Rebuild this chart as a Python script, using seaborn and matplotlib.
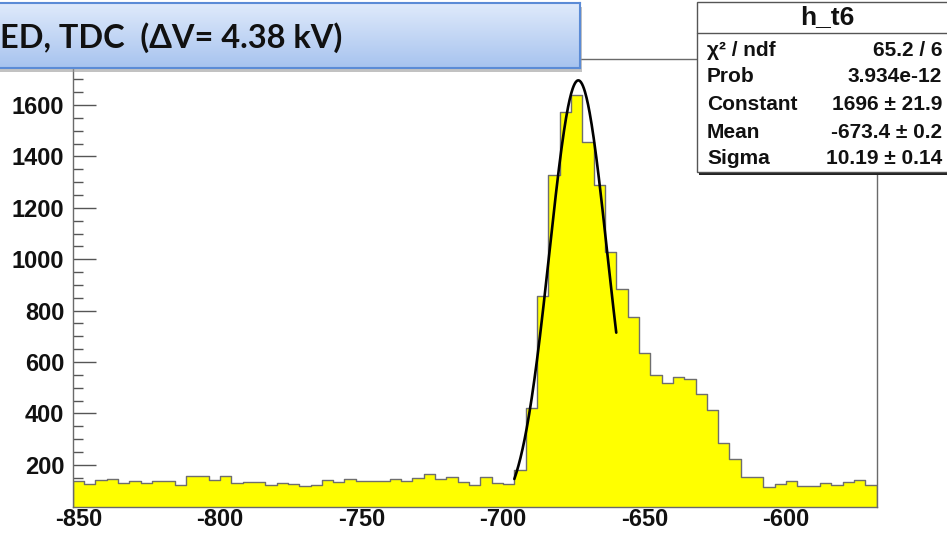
import numpy as np
import pandas as pd
import matplotlib
matplotlib.use("Agg")
import matplotlib.pyplot as plt
import seaborn as sns
from matplotlib.patches import Rectangle
from matplotlib.ticker import MultipleLocator

# TDC histogram h_t6: 71 bins of 4 channels starting at -852
bin_lo = -852
bin_width = 4
counts = [138, 126, 142, 145, 129, 138, 131, 139, 139, 122,
          158, 155, 141, 157, 129, 135, 135, 122, 129, 125,
          116, 120, 142, 135, 144, 138, 139, 139, 144, 138,
          148, 164, 146, 152, 135, 120, 151, 131, 125, 181,
          420, 858, 1328, 1574, 1639, 1457, 1289, 1030, 883, 777,
          637, 550, 520, 540, 533, 476, 414, 284, 222, 151,
          151, 113, 125, 138, 116, 116, 131, 122, 135, 142, 122]

# Gaussian fit result and its range
fit_constant = 1696
fit_mean = -673.4
fit_sigma = 10.19
fit_range = (-696, -660)

x_ticks = [-850, -800, -750, -700, -650, -600]
y_ticks = [200, 400, 600, 800, 1000, 1200, 1400, 1600]

title_text = "ED, TDC  (\u0394V= 4.38 kV)"
stats_title = "h_t6"
stats_labels = ["\u03c7\u00b2 / ndf", "Prob", "Constant", "Mean", "Sigma"]
stats_values = ["65.2 / 6", "3.934e-12", "1696 \u00b1 21.9",
                "-673.4 \u00b1 0.2", "10.19 \u00b1 0.14"]

W, H = 947, 533
sns.set_theme(style="white")
plt.rcParams["font.family"] = ["Liberation Sans", "DejaVu Sans"]

fig = plt.figure(figsize=(W / 100, H / 100), dpi=100)
fig.patch.set_facecolor("white")


def fx(px):
    return px / W


def fy(py):
    return 1 - py / H


# main frame
ax_l, ax_r, ax_t, ax_b = 72.7, 876.7, 59.3, 507
ax = fig.add_axes([fx(ax_l), fy(ax_b), fx(ax_r - ax_l), (ax_b - ax_t) / H])

edges = [bin_lo + bin_width * i for i in range(len(counts) + 1)]
centers = [e + bin_width / 2 for e in edges[:-1]]
df = pd.DataFrame({"channel": centers, "entries": counts})

sns.histplot(data=df, x="channel", weights="entries", bins=edges,
             element="step", fill=True, facecolor="#ffff00",
             edgecolor="#6e6e6e", linewidth=1.0, alpha=1, ax=ax)

xf = np.linspace(fit_range[0], fit_range[1], 200)
yf = fit_constant * np.exp(-0.5 * ((xf - fit_mean) / fit_sigma) ** 2)
sns.lineplot(x=xf, y=yf, color="black", linewidth=1.9, ax=ax)

ax.set_xlim(edges[0], edges[-1])
ax.set_ylim(36, 1778)
ax.set_xlabel("")
ax.set_ylabel("")
ax.set_xticks(x_ticks)
ax.set_yticks(y_ticks)
ax.xaxis.set_minor_locator(MultipleLocator(10))
ax.yaxis.set_minor_locator(MultipleLocator(50))
ax.set_xticklabels([str(v) for v in x_ticks])
ax.set_yticklabels([str(v) for v in y_ticks])

ax.tick_params(axis="x", which="major", direction="in", length=10,
               width=1, color="#555555", pad=1, labelsize=17,
               bottom=True, top=False)
ax.tick_params(axis="x", which="minor", direction="in", length=5,
               width=1, color="#555555", bottom=True, top=False)
ax.tick_params(axis="y", which="major", direction="in", length=16.5,
               width=1, color="#555555", pad=6, labelsize=17,
               left=True, right=False)
ax.tick_params(axis="y", which="minor", direction="in", length=7.5,
               width=1, color="#555555", left=True, right=False)
for lab in ax.get_xticklabels() + ax.get_yticklabels():
    lab.set_fontweight("bold")
    lab.set_color("#111111")
for sp in ax.spines.values():
    sp.set_color("#6a6a6a")
    sp.set_linewidth(1.0)
ax.set_facecolor("white")

# statistics box
sx0, sy0, sx1, sy1 = 697, 2, 955, 172
fig.add_artist(Rectangle((fx(sx0 + 2), fy(sy1 + 3)), fx(sx1 - sx0),
                         (sy1 - sy0) / H, transform=fig.transFigure,
                         facecolor="#222222", edgecolor="none", zorder=9))
fig.add_artist(Rectangle((fx(sx0), fy(sy1)), fx(sx1 - sx0),
                         (sy1 - sy0) / H, transform=fig.transFigure,
                         facecolor="white", edgecolor="#555555",
                         linewidth=1.0, zorder=10))
fig.add_artist(plt.Line2D([fx(sx0), fx(sx1)], [fy(33), fy(33)],
                          transform=fig.transFigure, color="#555555",
                          linewidth=1.0, zorder=11))
fig.text(fx(827), fy(17), stats_title, ha="center", va="center",
         fontsize=19, fontweight="bold", color="#111111", zorder=12)
row_y = [51, 77, 105, 132.5, 159]
for yy, lab, val in zip(row_y, stats_labels, stats_values):
    fig.text(fx(707), fy(yy), lab, ha="left", va="center",
             fontsize=15, fontweight="bold", color="#111111", zorder=12)
    fig.text(fx(942), fy(yy), val, ha="right", va="center",
             fontsize=15, fontweight="bold", color="#111111", zorder=12)

# title banner with a soft blue gradient
bx0, by0, bx1, by1 = -4, 3, 580, 68
fig.add_artist(Rectangle((fx(bx0 + 2), fy(by1 + 3.5)), fx(bx1 - bx0),
                         (by1 - by0) / H, transform=fig.transFigure,
                         facecolor="#9a9a9a", edgecolor="none",
                         alpha=0.6, zorder=13))
bax = fig.add_axes([fx(bx0), fy(by1), fx(bx1 - bx0), (by1 - by0) / H],
                   zorder=14)
grad = np.linspace(0, 1, 64).reshape(-1, 1)
top_c = np.array([0.875, 0.918, 0.984])
bot_c = np.array([0.655, 0.765, 0.937])
img = top_c[None, None, :] * (1 - grad[:, :, None]) + bot_c[None, None, :] * grad[:, :, None]
bax.imshow(img, aspect="auto", extent=(0, 1, 0, 1), origin="upper")
bax.set_xticks([])
bax.set_yticks([])
for sp in bax.spines.values():
    sp.set_color("#5b8bd6")
    sp.set_linewidth(1.5)
fig.text(fx(0), fy(38), title_text, ha="left", va="center",
         fontsize=23.4, fontweight="bold", color="#111111",
         family=["Lato", "DejaVu Sans"], zorder=20)

fig.savefig("out.png", dpi=100)
